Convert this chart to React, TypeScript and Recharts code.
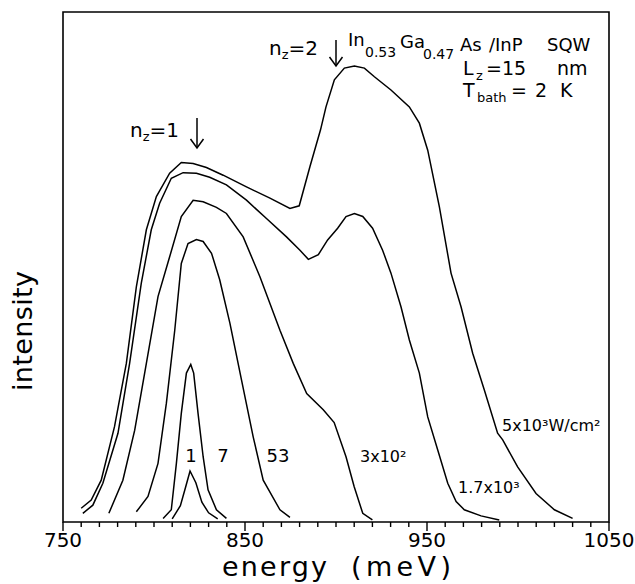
import React from "react";
import { LineChart, Line, XAxis, YAxis, ReferenceArea } from "recharts";

const W = 635;
const H = 584;
const FONT = "'DejaVu Sans', sans-serif";

// excitation density 1 W/cm2
const e1 = [810, 814.5, 817.5, 819.8, 823, 826.3, 830, 835];
const i1 = [0.6, 3.2, 7, 10, 7.7, 3.9, 1.8, 0.6];

// 7 W/cm2
const e7 = [805, 809.5, 812.3, 815, 817.8, 820.2, 821.8, 824.2, 827, 829.7, 834.3, 839.8];
const i7 = [0.7, 2.4, 11.5, 21.3, 29.2, 30.9, 29.2, 21.3, 12.8, 6.3, 2.4, 0.7];

// 53 W/cm2
const e53 = [790.3, 796.7, 802.2, 806.8, 811.4, 815, 818.7, 823.3, 827, 831.6, 836.1, 841.7, 848.1, 854.5, 860, 869.2, 874.7];
const i53 = [2.0, 5.0, 11.5, 23.3, 37.6, 50.7, 54.6, 55.4, 55.0, 52.7, 47.5, 39.0, 27.8, 16.7, 8.2, 2.4, 0.9];

// 3x10^2 W/cm2
const e300 = [775.2, 782.9, 789.4, 795.8, 802.2, 808.6, 815, 821.5, 827, 834.3, 839.8, 849, 858.2, 869.2, 876.5, 883.9, 893, 899, 905.5, 910, 914.7, 920];
const i300 = [1.7, 8.2, 18, 31.1, 44.2, 52, 59.9, 63.1, 62.8, 61.7, 60.5, 55.9, 48.1, 37.6, 31.1, 25.2, 22, 19.5, 12.8, 6.9, 1.7, 0.4];

// 1.7x10^3 W/cm2
const e1700 = [760.9, 766.4, 771.9, 780.2, 786.6, 793, 798.5, 803.1, 809.5, 816, 823.3, 830.6, 839.8, 850.8, 861.8, 872.8, 880.2, 884.8, 890.3, 895.4, 900.9, 905.5, 910.1, 914.7, 920.1, 925.6, 930.2, 935.7, 940.3, 945.8, 950.4, 955.9, 961.4, 966, 970.5, 979.7, 989.7];
const i1700 = [1.7, 3.3, 7.6, 17.4, 31.1, 46.8, 57.3, 62.5, 67.4, 68.5, 68.4, 67.6, 66.1, 63.1, 59.5, 55.9, 53.3, 51.5, 52.4, 55.3, 57.6, 59.9, 60.5, 59.9, 57.6, 53.3, 48.8, 42.2, 35.7, 29.2, 20.6, 14.1, 7.6, 4, 2.4, 1.2, 0.4];

// 5x10^3 W/cm2
const e5000 = [760, 765.5, 771, 778.3, 784.8, 790.3, 795.8, 801.3, 808.6, 815, 821.5, 828.8, 838, 850.8, 863.7, 874.7, 879.8, 885.7, 891.5, 894.5, 899.1, 904.6, 910.1, 915.6, 921.1, 930.2, 940.3, 945.8, 950.4, 956.8, 963.2, 968.7, 975.1, 981.5, 988.8, 991.6, 999.8, 1009.9, 1020, 1030];
const i5000 = [2.7, 4.3, 8.2, 18.7, 31.1, 46.1, 57.3, 63.8, 68.4, 70.5, 70.3, 69.5, 68, 65.7, 63.5, 61.5, 62, 69.7, 76.9, 81.4, 86.7, 89, 89.4, 89, 87.3, 84.7, 81.4, 78.2, 72.9, 61.8, 48.8, 42.2, 33.1, 25.9, 17.4, 16.1, 10.8, 5.6, 2.4, 0.7];

const majorTicks = [750, 850, 950, 1050];
const allTicks = [
  750, 760, 770, 780, 790, 800, 810, 820, 830, 840,
  850, 860, 870, 880, 890, 900, 910, 920, 930, 940,
  950, 960, 970, 980, 990, 1000, 1010, 1020, 1030, 1040, 1050,
];

const toPoints = (e: number[], v: number[]) => e.map((x, k) => ({ e: x, v: v[k] }));

const spectra = [
  toPoints(e1, i1),
  toPoints(e7, i7),
  toPoints(e53, i53),
  toPoints(e300, i300),
  toPoints(e1700, i1700),
  toPoints(e5000, i5000),
];

function EnergyTick(props: any) {
  const { x, y, payload } = props;
  const major = majorTicks.includes(payload.value);
  return (
    <g>
      <line x1={x} y1={y} x2={x} y2={y + (major ? 9 : 5)} stroke="#000" strokeWidth={1.4} />
      {major && (
        <text x={x} y={y + 25} textAnchor="middle" fontSize={20} fontFamily={FONT} fill="#000">
          {payload.value}
        </text>
      )}
    </g>
  );
}

function Arrow({ x, y1, y2 }: { x: number; y1: number; y2: number }) {
  return (
    <g stroke="#000" strokeWidth={1.5} fill="none">
      <line x1={x} y1={y1} x2={x} y2={y2} />
      <polyline points={`${x - 6.5},${y2 - 9} ${x},${y2} ${x + 6.5},${y2 - 9}`} />
    </g>
  );
}

function Annotations() {
  const t = { fontFamily: FONT, fill: "#000" };
  return (
    <svg
      width={W}
      height={H}
      style={{ position: "absolute", left: 0, top: 0, pointerEvents: "none" }}
    >
      {/* n_z = 1 */}
      <text x={130} y={137} fontSize={20} {...t}>
        n<tspan fontSize={13} dy={4}>z</tspan>
        <tspan fontSize={20} dy={-4}>=1</tspan>
      </text>
      <Arrow x={197} y1={118} y2={148} />

      {/* n_z = 2 */}
      <text x={269} y={55} fontSize={20} {...t}>
        n<tspan fontSize={13} dy={4}>z</tspan>
        <tspan fontSize={20} dy={-4}>=2</tspan>
      </text>
      <Arrow x={336} y1={40} y2={66} />

      <text x={348} y={46} fontSize={18} {...t}>In</text>
      <text x={365} y={57} fontSize={14} {...t}>0.53</text>
      <text x={400} y={48} fontSize={18} {...t}>Ga</text>
      <text x={423} y={59} fontSize={14} {...t}>0.47</text>
      <text x={460} y={51} fontSize={18} {...t}>As</text>
      <text x={489} y={51} fontSize={18} {...t}>/InP</text>
      <text x={547} y={51} fontSize={18} {...t}>SQW</text>

      <text x={463} y={75} fontSize={19} {...t}>L</text>
      <text x={476} y={80} fontSize={13} {...t}>z</text>
      <text x={486} y={75} fontSize={19} {...t}>=15</text>
      <text x={557} y={75} fontSize={19} {...t}>nm</text>

      <text x={463} y={97} fontSize={19} {...t}>T</text>
      <text x={477} y={102} fontSize={13} {...t}>bath</text>
      <text x={511} y={97} fontSize={19} textLength={36} {...t}>=2</text>
      <text x={560} y={97} fontSize={19} {...t}>K</text>

      {/* excitation density labels */}
      <text x={191} y={462} fontSize={18} textAnchor="middle" {...t}>1</text>
      <text x={223} y={462} fontSize={18} textAnchor="middle" {...t}>7</text>
      <text x={278} y={462} fontSize={18} textAnchor="middle" {...t}>53</text>
      <text x={360} y={462} fontSize={16} {...t}>3x10²</text>
      <text x={458} y={493} fontSize={16} {...t}>1.7x10³</text>
      <text x={502} y={431} fontSize={16} {...t}>5x10³W/cm²</text>

      {/* axis titles */}
      <text x={222} y={576} fontSize={27} textLength={105} {...t}>energy</text>
      <text x={351} y={576} fontSize={27} textLength={100} {...t}>(meV)</text>
      <text
        x={0}
        y={0}
        fontSize={27}
        textAnchor="middle"
        textLength={120}
        transform="translate(32,331) rotate(-90)"
        {...t}
      >
        intensity
      </text>
    </svg>
  );
}

export default function App() {
  return (
    <div style={{ position: "absolute", left: 0, top: 0, width: W, height: H, background: "#fff" }}>
      <LineChart width={W} height={H} margin={{ top: 12, right: 26, left: 0, bottom: 0 }}>
        <XAxis
          dataKey="e"
          type="number"
          domain={[750, 1050]}
          ticks={allTicks}
          interval={0}
          height={62}
          axisLine={false}
          tickLine={false}
          tickSize={0}
          tickMargin={0}
          tick={<EnergyTick />}
          allowDataOverflow
        />
        <YAxis
          type="number"
          domain={[0, 100]}
          width={63}
          tick={false}
          axisLine={false}
          tickLine={false}
          allowDataOverflow
        />
        <ReferenceArea x1={750} x2={1050} y1={0} y2={100} fill="none" stroke="#000" strokeWidth={1.6} />
        {spectra.map((s, k) => (
          <Line
            key={k}
            data={s}
            dataKey="v"
            type="linear"
            dot={false}
            stroke="#000"
            strokeWidth={1.5}
            isAnimationActive={false}
          />
        ))}
      </LineChart>
      <Annotations />
    </div>
  );
}
